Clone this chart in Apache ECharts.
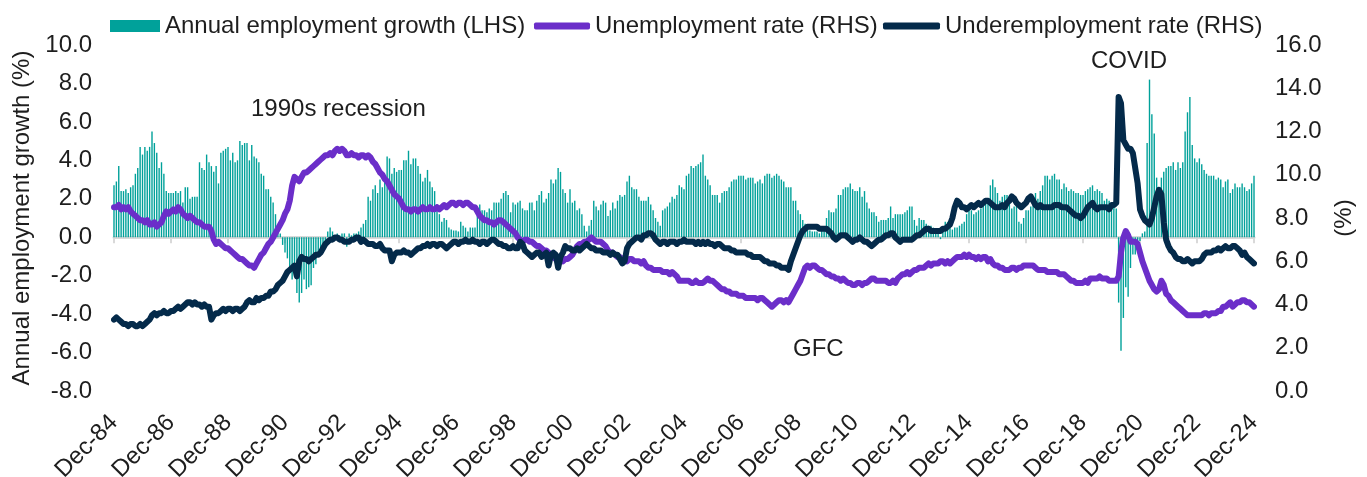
<!DOCTYPE html>
<html>
<head>
<meta charset="utf-8">
<script src="https://cdn.jsdelivr.net/npm/echarts@6/dist/echarts.min.js"></script>
<style>
  html, body { margin: 0; padding: 0; background: #fff; }
  #main { width: 1367px; height: 477px; }
</style>
</head>
<body>
<div id="main"></div>
<script>
// Monthly data, Dec-84 .. Dec-24 (one row per calendar year)
let monthNames = ["Jan", "Feb", "Mar", "Apr", "May", "Jun", "Jul", "Aug", "Sep", "Oct", "Nov", "Dec"];

// Annual employment growth (%), LHS
let growth = [
  2.7,
  2.9, 3.7, 2.4, 2.4, 2.5, 2.3, 2.6, 2.7, 3.3, 3.6, 4.7, 4.3,
  4.7, 4.5, 4.7, 5.5, 4.9, 4.4, 3.6, 3.9, 3.3, 2.4, 2.3, 2.3,
  2.3, 2.4, 2.3, 2.4, 1.8, 2.6, 2.6, 2.0, 2.1, 2.1, 2.1, 3.9,
  3.6, 3.5, 4.3, 3.9, 3.7, 3.4, 3.7, 2.8, 4.4, 4.5, 4.6, 4.7,
  4.0, 4.4, 3.9, 4.0, 5.0, 4.8, 4.9, 4.9, 4.0, 4.8, 4.2, 4.1,
  3.9, 3.3, 3.2, 2.5, 2.5, 2.1, 1.8, 1.2, 0.6, 0.2, -0.4, -0.8,
  -1.1, -1.6, -2.2, -2.0, -2.9, -3.4, -2.9, -2.2, -2.7, -2.6, -2.5, -1.6,
  -1.4, -1.0, -0.9, -0.5, -0.3, 0.3, 0.5, 0.3, 0.1, 0.2, 0.1, 0.2,
  0.2, -0.5, 0.2, 0.1, 0.2, 0.2, 0.3, 0.5, 0.7, 0.9, 2.1, 1.9,
  2.5, 2.7, 2.3, 3.0, 2.6, 2.9, 4.2, 4.1, 3.3, 3.6, 3.4, 3.5,
  3.5, 4.0, 4.0, 4.5, 3.8, 4.1, 4.1, 3.7, 3.3, 2.9, 3.1, 3.5,
  2.9, 2.6, 2.4, 1.7, 1.2, 0.8, 1.0, 0.9, 0.5, 0.4, 0.35, 0.35,
  0.3, 0.8, 0.6, 0.5, 0.3, 0.5, 0.5, 0.5, 1.1, 1.7, 1.4, 1.4,
  1.3, 1.5, 1.4, 1.8, 1.8, 1.8, 2.0, 2.3, 2.4, 2.2, 1.3, 1.8,
  1.7, 1.8, 1.9, 1.5, 1.4, 1.4, 1.8, 1.8, 1.4, 1.9, 2.2, 2.4,
  1.8, 2.0, 2.3, 3.0, 2.8, 3.0, 3.6, 3.4, 2.5, 2.3, 1.8, 2.5,
  1.8, 1.9, 1.4, 1.5, 1.2, 0.6, 0.3, 0.6, 0.9, 1.9, 1.6, 1.4,
  1.7, 1.9, 1.8, 1.1, 1.4, 1.8, 1.5, 1.9, 2.2, 2.1, 2.2, 2.9,
  3.2, 2.6, 2.5, 2.5, 2.1, 1.9, 1.9, 1.9, 2.1, 1.7, 1.4, 1.0,
  0.8, 0.6, 1.4, 1.5, 1.6, 1.8, 2.1, 2.0, 2.2, 2.7, 2.6, 2.5,
  3.2, 3.3, 3.7, 3.6, 3.7, 3.8, 3.9, 4.3, 3.2, 3.0, 2.7, 2.2,
  2.2, 2.2, 1.8, 2.3, 2.4, 2.4, 2.6, 2.9, 3.0, 3.0, 3.2, 3.2,
  3.2, 3.0, 3.1, 3.1, 3.1, 2.8, 2.9, 3.0, 2.8, 3.2, 3.3, 3.3,
  3.1, 3.2, 3.3, 3.2, 3.0, 2.9, 2.6, 2.6, 2.6, 1.9, 1.9, 1.4,
  1.2, 0.9, 0.7, 0.6, 0.35, 0.3, 0.3, 0.3, 0.2, 0.35, 0.35, 1.0,
  1.4, 1.3, 1.3, 1.5, 2.2, 2.2, 2.5, 2.6, 2.6, 2.8, 2.5, 2.4,
  2.4, 2.6, 2.1, 2.4, 1.8, 1.5, 1.3, 1.3, 1.1, 0.8, 0.9, 0.9,
  0.9, 1.0, 1.6, 1.0, 1.2, 1.2, 1.2, 1.2, 1.3, 1.4, 1.6, 1.6,
  0.9, 0.6, 1.0, 0.9, 0.9, 0.7, 0.6, 0.6, 0.5, 0.4, 0.3, -0.1,
  0.4, 0.8, 0.8, 0.5, 0.4, 0.5, 0.5, 0.6, 0.7, 0.8, 1.2, 1.4,
  1.4, 1.2, 1.3, 1.4, 1.5, 1.8, 1.8, 1.9, 2.7, 3.0, 2.6, 2.3,
  1.9, 2.1, 2.2, 2.2, 2.1, 1.5, 1.6, 1.8, 0.8, 0.7, 1.0, 1.4,
  1.4, 1.6, 1.9, 2.3, 2.0, 2.4, 2.7, 3.2, 3.2, 3.0, 3.2, 3.3,
  3.0, 3.0, 2.5, 2.8, 2.6, 2.4, 2.5, 2.4, 2.3, 2.3, 2.2, 2.2,
  2.4, 2.5, 2.6, 2.7, 2.4, 2.5, 2.4, 2.3, 1.9, 2.0, 1.9, 1.8,
  1.75, 1.5, -3.4, -5.9, -4.2, -2.6, -3.1, -1.6, -0.9, -0.9, -0.35, -0.2,
  0.2, 0.3, 4.9, 8.2, 6.4, 5.4, 3.1, 2.6, 3.1, 3.4, 3.6, 3.7,
  3.7, 3.9, 3.5, 3.9, 3.6, 3.9, 5.5, 6.5, 7.3, 4.8, 4.1, 3.9,
  4.1, 3.8, 3.5, 3.3, 3.2, 3.2, 3.2, 3.0, 3.1, 3.0, 2.6, 2.9,
  3.0, 2.3, 2.5, 2.8, 2.6, 2.6, 2.8, 2.6, 2.4, 2.5, 2.8, 3.2
];

// Unemployment rate (%), RHS
let unemployment = [
  8.5,
  8.5, 8.6, 8.4, 8.5, 8.4, 8.5, 8.3, 8.2, 8.1, 8.0, 7.9, 7.9,
  7.8, 7.9, 7.7, 7.7, 7.8, 7.6, 7.7, 7.8, 8.1, 8.3, 8.2, 8.3,
  8.4, 8.3, 8.5, 8.4, 8.2, 8.1, 8.0, 8.1, 8.0, 7.9, 7.8, 7.8,
  7.7, 7.6, 7.6, 7.6, 7.4, 7.0, 6.8, 6.9, 6.8, 6.7, 6.6, 6.6,
  6.5, 6.4, 6.3, 6.2, 6.1, 6.1, 6.0, 5.9, 5.8, 5.8, 5.7, 5.9,
  6.1, 6.3, 6.4, 6.6, 6.8, 6.9, 7.1, 7.3, 7.5, 7.7, 7.9, 8.2,
  8.4, 8.8, 9.5, 9.9, 9.8, 9.7, 9.9, 10.1, 10.1, 10.2, 10.3, 10.4,
  10.5, 10.6, 10.7, 10.8, 10.9, 10.9, 11.0, 10.9, 11.1, 11.2, 11.1, 11.2,
  11.1, 10.9, 10.9, 11.0, 10.9, 10.9, 10.8, 10.9, 10.9, 10.8, 10.9, 10.8,
  10.6, 10.5, 10.3, 10.1, 10.0, 9.8, 9.7, 9.5, 9.3, 9.1, 9.0, 8.9,
  8.7, 8.5, 8.4, 8.4, 8.3, 8.4, 8.4, 8.3, 8.4, 8.5, 8.4, 8.4,
  8.5, 8.4, 8.4, 8.5, 8.4, 8.5, 8.6, 8.5, 8.6, 8.7, 8.7, 8.6,
  8.7, 8.7, 8.6, 8.7, 8.7, 8.6, 8.5, 8.5, 8.3, 8.1, 8.0, 7.9,
  7.9, 7.8, 7.8, 7.7, 7.8, 7.9, 7.9, 7.8, 7.7, 7.6, 7.5, 7.4,
  7.3, 7.1, 7.0, 6.9, 7.0, 7.0, 6.9, 6.9, 6.8, 6.7, 6.7, 6.6,
  6.5, 6.5, 6.4, 6.3, 6.2, 6.1, 6.0, 6.1, 6.0, 6.1, 6.1, 6.2,
  6.3, 6.5, 6.7, 6.8, 6.8, 6.9, 6.9, 7.0, 7.1, 7.0, 6.9, 6.9,
  6.9, 6.8, 6.7, 6.5, 6.4, 6.4, 6.3, 6.2, 6.2, 6.1, 6.1, 6.0,
  6.1, 6.1, 6.0, 6.0, 6.0, 5.9, 6.0, 5.8, 5.7, 5.7, 5.6, 5.6,
  5.6, 5.6, 5.5, 5.5, 5.5, 5.4, 5.5, 5.4, 5.3, 5.1, 5.1, 5.1,
  5.1, 5.1, 5.0, 5.0, 5.1, 5.0, 5.0, 5.0, 5.1, 5.2, 5.1, 5.1,
  5.0, 4.9, 4.8, 4.7, 4.7, 4.6, 4.6, 4.5, 4.5, 4.5, 4.4, 4.4,
  4.4, 4.3, 4.3, 4.3, 4.3, 4.3, 4.2, 4.3, 4.3, 4.2, 4.1, 4.0,
  3.9, 4.0, 4.1, 4.2, 4.2, 4.1, 4.2, 4.1, 4.3, 4.5, 4.7, 4.9,
  5.1, 5.4, 5.7, 5.8, 5.7, 5.8, 5.8, 5.7, 5.6, 5.6, 5.5, 5.4,
  5.4, 5.3, 5.3, 5.2, 5.2, 5.1, 5.2, 5.1, 5.0, 5.0, 4.9, 4.9,
  5.0, 5.0, 4.9, 5.0, 5.0, 5.1, 5.2, 5.2, 5.1, 5.1, 5.1, 5.1,
  5.1, 5.0, 5.0, 5.1, 5.0, 5.2, 5.3, 5.4, 5.4, 5.5, 5.4, 5.5,
  5.6, 5.6, 5.7, 5.7, 5.7, 5.8, 5.9, 5.8, 5.9, 5.9, 5.9, 6.0,
  6.0, 5.9, 6.0, 5.9, 6.0, 6.1, 6.2, 6.2, 6.2, 6.3, 6.2, 6.3,
  6.2, 6.2, 6.1, 6.2, 6.1, 6.2, 6.2, 6.0, 6.1, 5.9, 5.8, 5.8,
  5.7, 5.7, 5.6, 5.6, 5.6, 5.7, 5.7, 5.6, 5.7, 5.7, 5.8, 5.8,
  5.8, 5.8, 5.8, 5.7, 5.6, 5.6, 5.6, 5.6, 5.5, 5.5, 5.5, 5.5,
  5.5, 5.4, 5.4, 5.4, 5.3, 5.2, 5.1, 5.1, 5.0, 5.0, 5.0, 5.0,
  5.1, 5.0, 5.2, 5.2, 5.2, 5.2, 5.3, 5.2, 5.2, 5.2, 5.1, 5.1,
  5.1, 5.1, 5.3, 6.4, 7.1, 7.4, 7.2, 6.9, 6.9, 6.9, 6.8, 6.4,
  6.0, 5.7, 5.4, 5.1, 4.9, 4.7, 4.6, 4.7, 5.1, 4.9, 4.5, 4.4,
  4.2, 4.1, 4.0, 3.9, 3.8, 3.7, 3.6, 3.5, 3.5, 3.5, 3.5, 3.5,
  3.5, 3.5, 3.6, 3.6, 3.5, 3.6, 3.6, 3.6, 3.7, 3.7, 3.9, 3.9,
  4.0, 4.1, 3.9, 4.0, 4.1, 4.1, 4.2, 4.2, 4.1, 4.1, 4.0, 3.9
];

// Underemployment rate (%), RHS
let underemployment = [
  3.3,
  3.4, 3.3, 3.2, 3.1, 3.1, 3.0, 3.1, 3.1, 3.0, 3.0, 3.1, 3.0,
  3.1, 3.2, 3.3, 3.5, 3.6, 3.5, 3.6, 3.6, 3.7, 3.6, 3.6, 3.7,
  3.7, 3.8, 3.9, 3.8, 3.9, 4.0, 4.1, 4.1, 4.0, 4.1, 4.0, 4.0,
  3.9, 4.0, 3.9, 3.9, 3.3, 3.5, 3.6, 3.6, 3.7, 3.8, 3.7, 3.8,
  3.8, 3.7, 3.8, 3.8, 3.7, 3.8, 3.9, 4.1, 4.2, 4.1, 4.1, 4.3,
  4.2, 4.3, 4.3, 4.4, 4.4, 4.6, 4.6, 4.7, 4.9, 5.0, 5.1, 5.3,
  5.5, 5.6, 5.7, 5.8, 5.3, 6.0, 6.2, 6.1, 6.1, 6.0, 6.1, 6.2,
  6.3, 6.3, 6.4, 6.6, 6.8, 6.9, 7.0, 7.0, 7.1, 7.1, 7.0, 7.0,
  6.9, 6.9, 6.9, 7.0, 7.0, 7.1, 7.1, 6.9, 7.0, 6.9, 6.8, 6.8,
  6.8, 6.7, 6.7, 6.8, 6.6, 6.5, 6.5, 6.5, 6.0, 6.3, 6.4, 6.4,
  6.4, 6.5, 6.4, 6.4, 6.3, 6.4, 6.5, 6.6, 6.6, 6.7, 6.7, 6.8,
  6.7, 6.8, 6.8, 6.7, 6.8, 6.8, 6.7, 6.6, 6.7, 6.8, 6.9, 6.9,
  6.8, 6.9, 6.9, 7.0, 6.9, 6.9, 7.0, 6.9, 6.9, 6.8, 6.9, 6.9,
  6.8, 6.9, 7.0, 7.0, 6.9, 6.8, 6.8, 6.7, 6.7, 6.6, 6.6, 6.7,
  6.6, 6.6, 6.9, 6.8, 6.5, 6.4, 6.3, 6.2, 6.3, 6.4, 6.4, 6.2,
  6.3, 6.4, 5.8, 6.3, 6.4, 6.3, 5.7, 6.2, 6.4, 6.7, 6.6, 6.6,
  6.5, 6.5, 6.6, 6.5, 6.6, 6.7, 6.8, 6.7, 6.6, 6.6, 6.5, 6.5,
  6.5, 6.4, 6.4, 6.4, 6.3, 6.4, 6.3, 6.3, 6.1, 5.9, 6.0, 6.6,
  6.8, 6.9, 7.0, 7.1, 7.1, 7.0, 7.2, 7.2, 7.3, 7.3, 7.2, 7.0,
  6.9, 6.8, 6.9, 6.9, 6.8, 6.9, 6.9, 6.9, 6.8, 6.9, 6.9, 7.0,
  6.9, 6.9, 6.9, 6.9, 6.8, 6.9, 6.8, 6.9, 6.8, 6.9, 6.8, 6.8,
  6.7, 6.8, 6.8, 6.7, 6.6, 6.6, 6.6, 6.5, 6.5, 6.4, 6.4, 6.4,
  6.4, 6.4, 6.3, 6.3, 6.2, 6.2, 6.2, 6.2, 6.1, 6.0, 6.0, 5.9,
  5.9, 5.9, 5.8, 5.8, 5.7, 5.7, 5.7, 5.6, 6.0, 6.3, 6.6, 6.9,
  7.2, 7.4, 7.5, 7.6, 7.6, 7.6, 7.6, 7.6, 7.5, 7.5, 7.5, 7.5,
  7.4, 7.3, 7.1, 7.0, 7.1, 7.2, 7.2, 7.2, 7.1, 7.0, 6.9, 7.0,
  7.0, 7.1, 7.0, 6.9, 6.9, 6.8, 6.7, 6.8, 6.9, 7.0, 7.0, 7.1,
  7.2, 7.2, 7.3, 7.3, 7.1, 7.0, 6.9, 7.0, 7.0, 7.0, 7.0, 7.0,
  7.1, 7.2, 7.2, 7.3, 7.4, 7.5, 7.5, 7.4, 7.4, 7.4, 7.4, 7.4,
  7.5, 7.5, 7.6, 7.7, 8.0, 8.5, 8.8, 8.7, 8.5, 8.5, 8.4, 8.5,
  8.6, 8.5, 8.6, 8.7, 8.6, 8.7, 8.8, 8.8, 8.7, 8.6, 8.5, 8.5,
  8.5, 8.6, 8.5, 8.7, 8.8, 9.0, 8.9, 8.7, 8.6, 8.5, 8.6, 8.7,
  8.9, 9.0, 8.8, 8.6, 8.5, 8.6, 8.5, 8.5, 8.5, 8.5, 8.5, 8.6,
  8.6, 8.6, 8.5, 8.5, 8.5, 8.4, 8.3, 8.2, 8.1, 8.1, 8.0, 8.1,
  8.3, 8.5, 8.6, 8.7, 8.5, 8.4, 8.5, 8.5, 8.5, 8.5, 8.4, 8.6,
  8.6, 8.7, 13.6, 13.3, 11.6, 11.4, 11.2, 11.2, 11.0, 10.3, 9.6, 8.4,
  8.1, 7.9, 7.8, 7.7, 8.0, 8.5, 9.0, 9.3, 9.1, 7.8, 7.0, 6.7,
  6.5, 6.4, 6.2, 6.1, 6.1, 6.0, 6.0, 6.1, 6.0, 5.9, 6.0, 6.0,
  6.0, 6.1, 6.3, 6.4, 6.4, 6.4, 6.5, 6.5, 6.6, 6.5, 6.6, 6.7,
  6.6, 6.6, 6.7, 6.7, 6.6, 6.5, 6.3, 6.4, 6.2, 6.1, 6.0, 5.9
];

// Month labels Dec-84 .. Dec-24
let months = [];
for (let i = 0; i < growth.length; i++) {
  let m = (11 + i) % 12;
  let y = 1984 + Math.floor((11 + i) / 12);
  months.push(monthNames[m] + "-" + String(y).slice(2));
}

let colors = {
  growth: "#00a19a",
  unemployment: "#6b2ec9",
  underemployment: "#042a4a",
  text: "#1e1e1e",
  axis: "#d9d9d9",
};

let font = "'Liberation Sans', Arial, sans-serif";

let myChart = echarts.init(document.getElementById("main"));

let legendBase = {
  top: 14,
  padding: 0,
  itemGap: 0,
  textStyle: { fontSize: 24, color: colors.text, fontFamily: font },
};

let option = {
  animation: false,
  textStyle: { fontFamily: font },
  grid: { left: 114, right: 113, top: 45, bottom: 86, containLabel: false, outerBoundsMode: "none" },
  legend: [
    Object.assign({}, legendBase, {
      left: 110,
      itemWidth: 50,
      itemHeight: 12,
      icon: "rect",
      data: ["Annual employment growth (LHS)"],
    }),
    Object.assign({}, legendBase, {
      left: 534,
      itemWidth: 56,
      itemHeight: 7,
      icon: "roundRect",
      data: ["Unemployment rate (RHS)"],
    }),
    Object.assign({}, legendBase, {
      left: 883,
      itemWidth: 57,
      itemHeight: 7,
      icon: "roundRect",
      data: ["Underemployment rate (RHS)"],
    }),
  ],
  xAxis: [
    {
      type: "category",
      data: months,
      boundaryGap: false,
      axisLine: {
        onZero: true,
        onZeroAxisIndex: 0,
        lineStyle: { color: colors.axis, width: 3 },
      },
      axisTick: { interval: 23, length: 6, lineStyle: { color: colors.axis, width: 2 } },
      axisLabel: { show: false },
      splitLine: { show: false },
    },
    {
      type: "category",
      data: months,
      boundaryGap: false,
      position: "bottom",
      axisLine: { show: false, onZero: false },
      axisTick: { show: false },
      axisLabel: {
        interval: 23,
        rotate: 45,
        margin: 28,
        fontSize: 24,
        color: colors.text,
        fontFamily: font,
      },
      splitLine: { show: false },
    },
  ],
  yAxis: [
    {
      type: "value",
      min: -8,
      max: 10,
      interval: 2,
      name: "Annual employment growth (%)",
      nameLocation: "middle",
      nameGap: 80,
      nameTextStyle: { fontSize: 24, color: colors.text, fontFamily: font },
      axisLine: { show: false },
      axisTick: { show: false },
      splitLine: { show: false },
      axisLabel: {
        margin: 22,
        fontSize: 24,
        color: colors.text,
        fontFamily: font,
        formatter: (v) => v.toFixed(1),
      },
    },
    {
      type: "value",
      min: 0,
      max: 16,
      interval: 2,
      position: "right",
      name: "(%)",
      nameLocation: "middle",
      nameRotate: 90,
      nameGap: 69,
      nameTextStyle: { fontSize: 24, color: colors.text, fontFamily: font },
      axisLine: { show: false },
      axisTick: { show: false },
      splitLine: { show: false },
      axisLabel: {
        margin: 21,
        fontSize: 24,
        color: colors.text,
        fontFamily: font,
        formatter: (v) => v.toFixed(1),
      },
    },
  ],
  series: [
    {
      name: "Annual employment growth (LHS)",
      type: "bar",
      xAxisIndex: 0,
      yAxisIndex: 0,
      data: growth,
      barWidth: 1.4,
      itemStyle: { color: colors.growth },
      z: 1,
    },
    {
      name: "Unemployment rate (RHS)",
      type: "line",
      xAxisIndex: 0,
      yAxisIndex: 1,
      data: unemployment,
      symbol: "none",
      lineStyle: { color: colors.unemployment, width: 6, join: "round", cap: "round" },
      itemStyle: { color: colors.unemployment },
      z: 3,
    },
    {
      name: "Underemployment rate (RHS)",
      type: "line",
      xAxisIndex: 0,
      yAxisIndex: 1,
      data: underemployment,
      symbol: "none",
      lineStyle: { color: colors.underemployment, width: 6, join: "round", cap: "round" },
      itemStyle: { color: colors.underemployment },
      z: 4,
    },
  ],
  graphic: [
    {
      type: "text",
      left: 251,
      top: 97,
      style: { text: "1990s recession", fontSize: 24, fill: colors.text, fontFamily: font },
    },
    {
      type: "text",
      left: 1091,
      top: 49,
      style: { text: "COVID", fontSize: 24, fill: colors.text, fontFamily: font },
    },
    {
      type: "text",
      left: 793,
      top: 337,
      style: { text: "GFC", fontSize: 24, fill: colors.text, fontFamily: font },
    },
  ],
};

myChart.setOption(option);
window.addEventListener("resize", function () {
  myChart.resize();
});
</script>
</body>
</html>
